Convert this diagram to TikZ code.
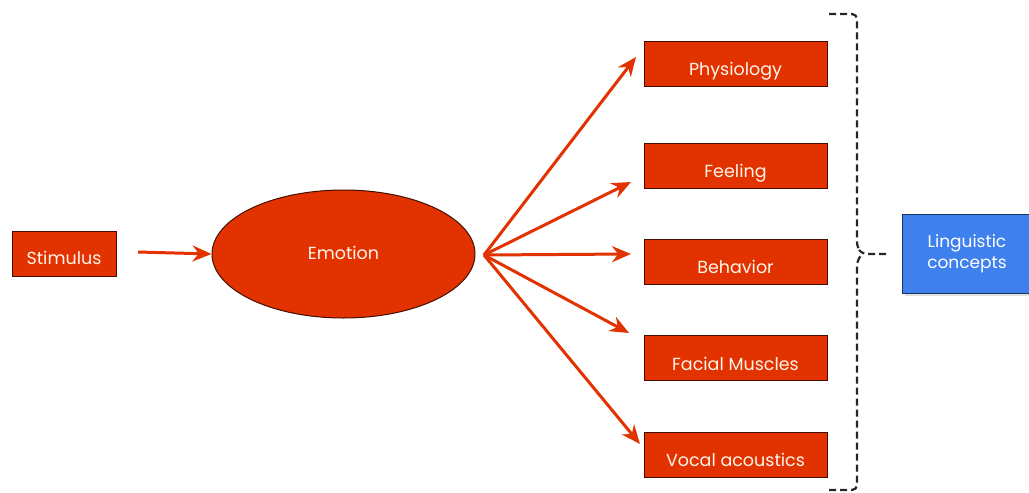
\documentclass[tikz,border=0pt]{standalone}
\usepackage{fontspec}
\setmainfont{Poppins}
\usetikzlibrary{arrows.meta,shapes.geometric,shadows}
\definecolor{emored}{RGB}{226,50,0}
\definecolor{lingblue}{RGB}{62,128,238}
\newcommand{\lowtext}[2]{\raisebox{-#1}[0pt][0pt]{#2}}
\tikzset{
  redbox/.style={draw=black!70!emored, line width=1pt, fill=emored, text=white!92!orange, minimum width=183pt, minimum height=45pt, inner sep=0pt, font=\fontsize{17.5}{20}\selectfont},
  arr/.style={draw=emored, line width=3pt, -{Stealth[length=19pt,width=16pt]}},
  brk/.style={draw=black!85, line width=2.2pt, dash pattern=on 7pt off 4pt, rounded corners=5pt}
}
\begin{document}
\begin{tikzpicture}[x=1pt,y=-1pt]
\useasboundingbox (0,0) rectangle (1029,493);
\node[redbox, minimum width=104pt, minimum height=45pt] (stim) at (64,253.5) {\lowtext{10.5pt}{Stimulus}};
\node[ellipse, draw=black!70!emored, line width=1pt, fill=emored, text=white!92!orange, minimum width=263pt, minimum height=128pt, inner sep=0pt, font=\fontsize{17.5}{20}\selectfont] (emo) at (343.5,254) {\raisebox{3pt}{Emotion}};
\node[redbox] (phys) at (735.5,63.5) {\lowtext{12pt}{Physiology}};
\node[redbox] (feel) at (735.5,165.5) {\lowtext{12pt}{Feeling}};
\node[redbox] (beh) at (735.5,261.5) {\lowtext{12pt}{Behavior}};
\node[redbox] (fac) at (735.5,358) {\lowtext{12pt}{Facial Muscles}};
\node[redbox] (voc) at (735.5,454.5) {\lowtext{12pt}{Vocal acoustics}};
\node[draw=black!60!lingblue, line width=1pt, fill=lingblue, text=white, minimum width=130pt, minimum height=79pt, inner sep=0pt, align=center, font=\fontsize{17}{21}\selectfont, drop shadow={opacity=0.25, shadow xshift=3pt, shadow yshift=-3pt}] (ling) at (967,253.5) {Linguistic\\concepts};
\coordinate (fan) at (484,255);
\draw[arr] (138,252) -- (emo.west);
\draw[arr] (fan) -- (636,57);
\draw[arr] (fan) -- (631,182);
\draw[arr] (fan) -- (631,254);
\draw[arr] (fan) -- (629,333);
\draw[arr] (fan) -- (640,444);
\coordinate (btop) at (829,14);
\coordinate (bbot) at (829,490);
\coordinate (bmid) at (889,254);
\draw[brk] (btop) -- (857,14) -- (857,247) -- (862,254) -- (bmid);
\draw[brk] (bbot) -- (857,490) -- (857,261) -- (862,254);
\end{tikzpicture}
\end{document}
